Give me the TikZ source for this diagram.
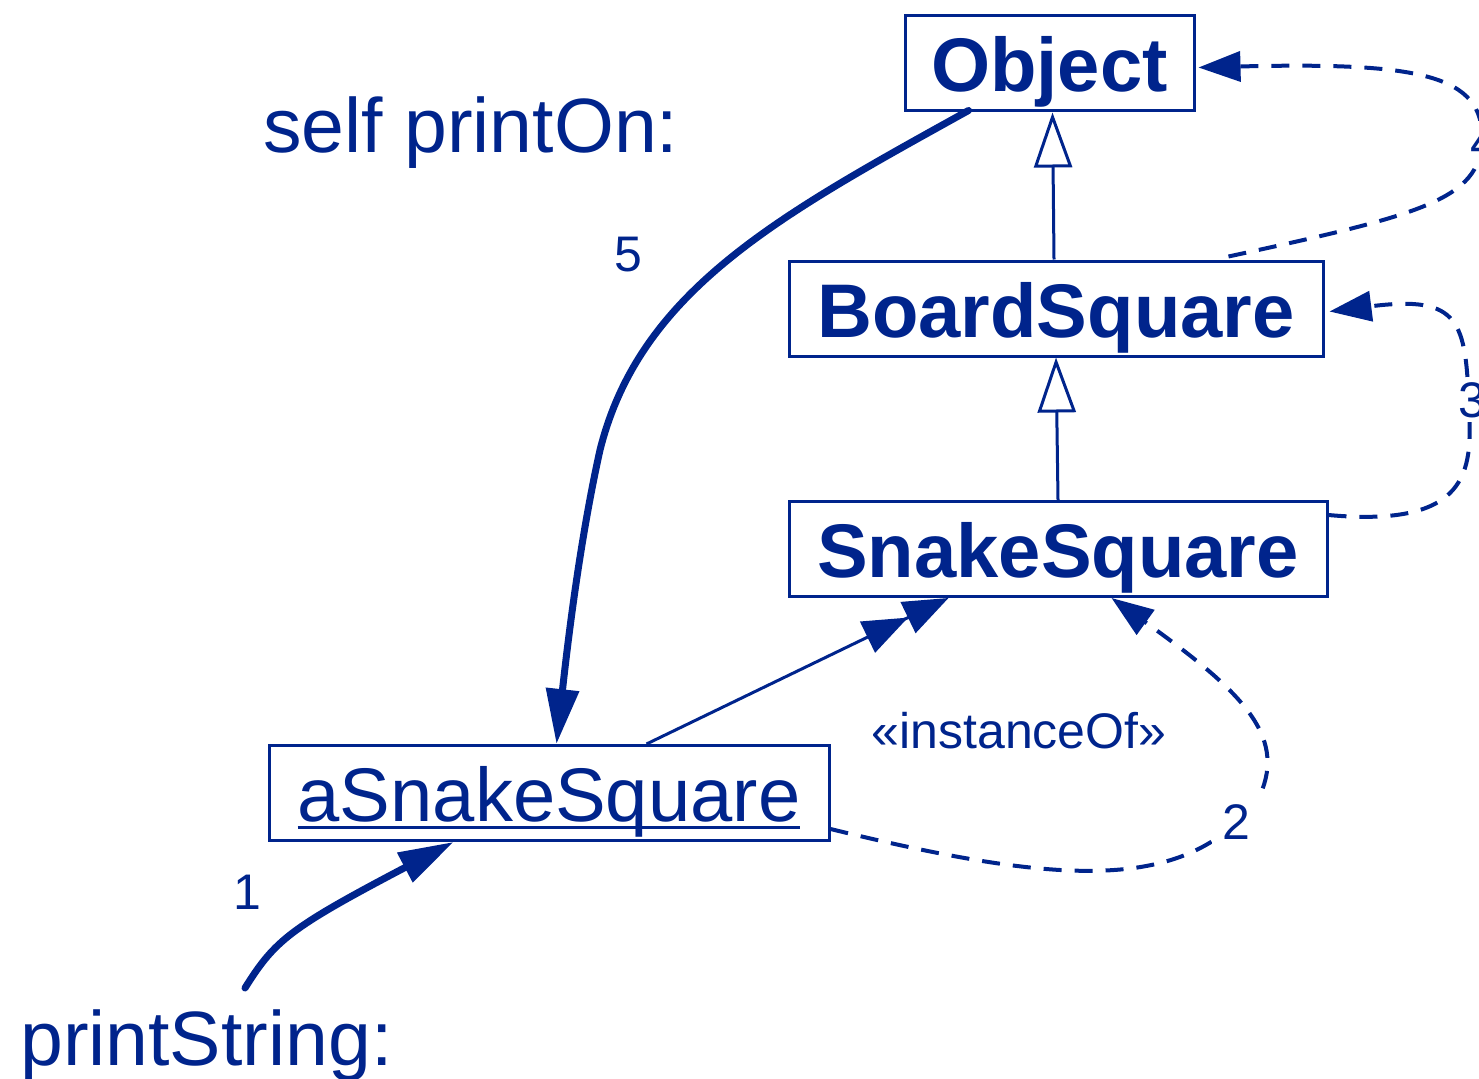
\documentclass[tikz,border=0pt]{standalone}
\usepackage{fontspec}
\setmainfont{Liberation Sans}
\usetikzlibrary{arrows.meta,calc}
\definecolor{blu}{RGB}{0,36,140}
\newcommand{\fs}[1]{\fontsize{#1}{#1}\selectfont}
\begin{document}
\begin{tikzpicture}[x=1pt,y=-1pt,
  box/.style={draw=blu,line width=3pt,text=blu,inner sep=0pt,text height=76pt,text depth=19pt},
  cls/.style={box,font=\fs{76}\bfseries},
  lbl/.style={text=blu,font=\fs{50},inner sep=4pt},
  big/.style={text=blu,font=\fs{77},inner sep=0pt},
  thick5/.style={draw=blu,line width=7pt,line cap=round,-{Triangle[length=55pt,width=32pt]}},
  gen/.style={draw=blu,line width=3pt,-{Triangle[open,length=55pt,width=38pt,line width=3pt]}},
  dep/.style={draw=blu,line width=4pt,dash pattern=on 18pt off 13pt,-{Triangle[length=42pt,width=30pt]}},
  inst/.style={draw=blu,line width=3pt,-{Triangle[length=45pt,width=34pt]Triangle[length=45pt,width=34pt]}}]
\useasboundingbox (0,0) rectangle (1479,1078);
% class boxes
\node[cls,minimum width=289pt] (obj) at (1049.5,63.5) {Object};
\node[cls,minimum width=534pt] (bs) at (1056,308.5) {BoardSquare};
\node[cls,minimum width=538pt] (ss) at (1058,549) {SnakeSquare};
\node[box,font=\fs{76},minimum width=560pt] (inst) at (549,793)
  {\setbox0\hbox{aSnakeSquare}\rlap{\rule[-7pt]{\wd0}{3pt}}\box0};
% texts
\node[big,anchor=base west] (self) at (263,153) {self printOn:};
\node[big,anchor=base west] (ps) at (20,1065) {printString:};
\node[lbl] (l5) at (628,255) {5};
\node[lbl] (l1) at (247,892) {1};
\node[lbl] (io) at (1019,731) {«instanceOf»};
% generalizations
\draw[gen] ($(bs.north)+(-2,0)$) -- ($(obj.south)+(3,0)$);
\draw[gen] (ss.north) -- (bs.south);
% instanceOf
\draw[inst] ($(inst.north west)+(379,0)$) -- ($(ss.south west)+(161,0)$);
% message 5
\draw[thick5] ($(obj.south west)+(65,-2)$) .. controls (780,215) and (640,290) .. (600,450)
  .. controls (580,540) and (568,640) .. ($(inst.north west)+(289,0)$);
% message 1
\coordinate (p1) at (245,988);
\draw[thick5] (p1) .. controls (275,940) and (290,928) .. ($(inst.south west)+(186,0)$);
% dashed 2
\draw[dep] ($(inst.south east)+(0,-13)$) .. controls (1060,885) and (1190,895) .. (1260,795)
  .. controls (1287,735) and (1240,690) .. ($(ss.south west)+(324,0)$);
\node[lbl,fill=white,inner sep=10pt] (l2) at (1236,822) {2};
% dashed 3
\draw[dep] ($(ss.north east)+(0,15)$) .. controls (1470,528) and (1472,470) .. (1469,410)
  .. controls (1466,320) and (1460,295) .. ($(bs.east)+(5,3)$);
\node[lbl,fill=white] (l3) at (1472,400) {3};
% dashed 4
\draw[dep] ($(bs.north west)+(441,-3)$) .. controls (1420,215) and (1480,200) .. (1482,140)
  .. controls (1484,75) and (1420,62) .. ($(obj.east)+(3,4)$);
\node[lbl,fill=white] (l4) at (1484,142) {4};
\end{tikzpicture}
\end{document}
